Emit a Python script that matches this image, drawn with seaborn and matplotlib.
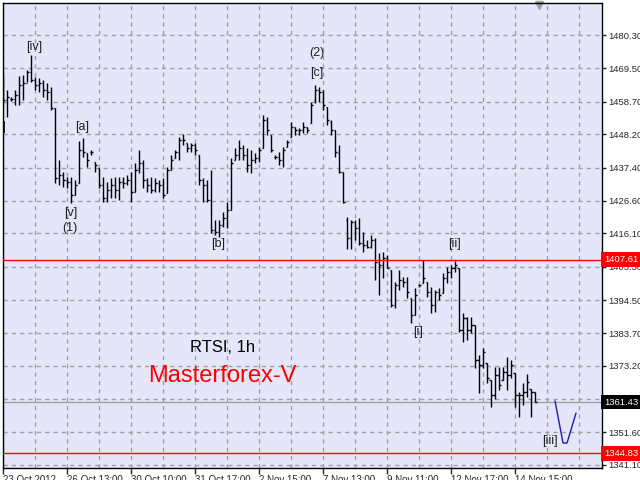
import seaborn as sns
import matplotlib.pyplot as plt
import matplotlib.transforms as mtransforms

sns.set_style("ticks", {"axes.facecolor": "#e6e6fa", "axes.edgecolor": "black"})
plt.rcParams['font.family'] = ['Liberation Sans', 'DejaVu Sans']

# hourly RTSI bars
highs = [1467.4,1462.5,1460.2,1462.5,1467.0,1467.4,1469.0,1473.8,1466.7,1466.4,
         1465.7,1464.8,1463.5,1456.7,1439.8,1436.0,1434.3,1434.3,1433.4,1446.0,
         1447.0,1442.1,1443.1,1439.2,1437.2,1434.3,1432.7,1434.0,1434.3,1434.3,
         1434.3,1435.0,1436.0,1438.9,1443.1,1439.8,1434.0,1434.3,1434.0,1433.4,
         1434.0,1437.6,1441.5,1443.1,1447.3,1448.3,1445.3,1445.3,1445.3,1441.5,
         1434.0,1433.4,1436.6,1420.4,1420.4,1423.0,1426.2,1440.5,1443.7,1446.3,
         1444.7,1443.7,1443.1,1442.1,1444.0,1454.4,1453.8,1447.9,1441.5,1442.4,
         1444.0,1446.3,1452.1,1450.5,1450.2,1452.1,1450.5,1458.6,1464.1,1463.5,
         1462.5,1457.0,1452.8,1449.5,1444.7,1436.0,1421.4,1420.4,1420.4,1421.1,
         1416.5,1413.9,1415.6,1414.6,1409.7,1410.1,1409.1,1404.2,1400.3,1404.2,
         1402.0,1402.0,1395.2,1398.4,1399.7,1407.5,1400.3,1398.7,1397.8,1398.4,
         1403.3,1405.2,1405.9,1407.2,1404.9,1390.3,1389.0,1389.0,1386.4,1376.7,
         1379.0,1374.1,1368.6,1372.8,1372.8,1372.8,1376.1,1375.1,1370.9,1364.7,
         1367.6,1370.6,1365.7,1364.7]
lows = [1457.6,1453.8,1458.9,1457.6,1457.6,1459.3,1465.1,1465.1,1462.5,1461.8,
        1460.2,1459.3,1456.0,1432.4,1431.7,1431.1,1430.8,1425.9,1428.5,1432.4,
        1440.8,1437.6,1441.5,1435.9,1430.8,1426.2,1426.2,1427.5,1427.5,1426.9,
        1430.8,1431.7,1426.2,1429.5,1435.7,1430.8,1429.5,1429.2,1429.5,1429.5,
        1427.5,1429.2,1436.6,1440.5,1439.8,1444.7,1442.4,1442.4,1441.5,1431.7,
        1426.2,1426.2,1416.2,1415.6,1414.9,1418.2,1417.8,1423.7,1439.8,1439.8,
        1439.8,1436.0,1435.6,1438.9,1439.2,1443.7,1447.9,1442.4,1440.2,1438.2,
        1437.6,1444.0,1447.3,1447.9,1447.9,1448.6,1448.6,1451.8,1458.3,1458.6,
        1456.0,1451.2,1447.9,1440.8,1435.6,1425.9,1411.0,1411.0,1413.9,1412.3,
        1410.1,1411.3,1411.3,1401.0,1396.1,1401.6,1404.9,1392.3,1391.9,1397.8,
        1398.7,1395.2,1387.1,1389.7,1398.7,1400.0,1395.5,1390.3,1390.6,1394.5,
        1396.8,1400.0,1401.6,1403.6,1384.2,1380.9,1381.6,1383.8,1372.5,1364.4,
        1372.5,1367.7,1359.9,1362.5,1365.4,1368.6,1365.4,1369.3,1359.9,1356.6,
        1360.5,1363.1,1356.6,1361.43]
opens = [1465.7,1459.3,1459.6,1459.6,1460.9,1464.1,1464.8,1468.3,1465.7,1464.1,
         1464.8,1462.5,1461.8,1456.7,1434.0,1435.0,1433.4,1432.7,1428.5,1432.4,
         1443.1,1442.1,1442.4,1439.2,1437.2,1431.7,1427.5,1430.1,1431.7,1430.1,
         1432.7,1432.4,1433.4,1429.5,1436.6,1438.9,1433.4,1431.7,1430.1,1432.4,
         1431.7,1429.2,1436.6,1440.5,1442.4,1446.3,1445.3,1443.7,1444.7,1441.5,
         1433.4,1431.7,1426.9,1417.2,1416.5,1418.8,1421.1,1423.7,1439.8,1441.5,
         1443.7,1441.5,1438.2,1439.8,1440.5,1443.7,1452.8,1447.9,1440.8,1440.8,
         1439.8,1444.0,1447.3,1450.5,1449.5,1449.5,1450.5,1451.8,1459.3,1462.5,
         1461.8,1457.0,1452.1,1449.5,1442.1,1436.0,1420.4,1414.6,1419.8,1417.8,
         1413.0,1412.3,1411.7,1413.9,1406.8,1405.9,1408.1,1404.2,1392.9,1399.4,
         1401.0,1400.3,1395.2,1389.7,1399.4,1400.0,1400.3,1397.1,1392.9,1397.1,
         1396.8,1401.6,1403.6,1404.9,1404.9,1384.8,1388.7,1384.8,1386.4,1375.1,
         1373.5,1374.1,1368.6,1363.8,1370.2,1368.6,1371.2,1370.2,1370.9,1363.8,
         1363.8,1364.7,1365.7,1364.7]
closes = [1459.3,1460.2,1459.6,1460.9,1464.1,1464.8,1468.3,1465.7,1464.1,1464.8,
          1462.5,1461.8,1456.7,1434.0,1435.0,1433.4,1432.7,1428.5,1431.7,1443.1,
          1442.4,1439.8,1442.4,1438.2,1431.7,1427.5,1430.1,1431.7,1430.1,1432.7,
          1432.4,1433.4,1429.5,1436.6,1438.9,1433.4,1431.7,1430.1,1432.4,1431.7,
          1428.5,1436.6,1439.8,1442.4,1446.3,1446.3,1443.7,1444.7,1443.1,1433.4,
          1431.7,1426.9,1417.2,1416.5,1418.8,1421.1,1423.7,1438.9,1441.5,1443.7,
          1441.5,1438.2,1439.8,1440.5,1443.1,1452.8,1449.5,1443.1,1440.8,1439.8,
          1443.1,1445.6,1450.5,1449.5,1449.5,1450.5,1449.5,1457.6,1462.5,1461.8,
          1457.6,1452.8,1449.5,1442.4,1436.0,1426.2,1414.6,1419.8,1417.8,1413.0,
          1412.3,1411.7,1413.9,1406.8,1405.9,1408.1,1404.9,1392.9,1399.4,1401.0,
          1400.3,1397.1,1389.7,1396.1,1399.4,1401.6,1397.1,1392.9,1397.1,1396.1,
          1401.6,1403.6,1404.9,1405.9,1384.8,1388.7,1384.8,1386.4,1375.1,1373.5,
          1377.7,1369.3,1363.8,1370.2,1367.0,1371.2,1370.2,1373.5,1363.8,1363.8,
          1364.7,1368.0,1364.7,1361.43]

xtick_pos = [0, 16, 32, 48, 64, 80, 96, 112, 128]
xtick_labels = ["23 Oct 2012", "26 Oct 13:00", "30 Oct 10:00", "31 Oct 17:00", "2 Nov 15:00",
                "7 Nov 13:00", "9 Nov 11:00", "12 Nov 17:00", "14 Nov 15:00"]
ytick_vals = [1480.30, 1469.50, 1458.70, 1448.20, 1437.40, 1426.60, 1416.10, 1405.30,
              1394.50, 1383.70, 1373.20, 1362.40, 1351.60, 1341.10]

red_levels = [1407.61, 1344.83]
bid = 1361.43

# wave labels: text, bar index, price
wave_labels = [("[iv]", 7.75, 1476.4), ("[i]", -0.6, 1450.5), ("[a]", 19.75, 1450.5),
               ("[v]", 16.75, 1422.7), ("(1)", 16.75, 1417.8), ("(2)", 78.5, 1474.5),
               ("[c]", 78.5, 1468.0), ("[b]", 53.75, 1412.6), ("[ii]", 112.75, 1412.6),
               ("[i]", 103.75, 1384.2), ("[iii]", 136.75, 1348.9)]

# forecast zigzag
proj_x = [138, 140, 141, 143.25]
proj_y = [1361.8, 1348.2, 1348.2, 1357.9]

fig = plt.figure(figsize=(6.4, 4.8), dpi=100)
ax = fig.add_axes([3/640, 12/480, 599/640, 465/480])

n = len(highs)
idx = list(range(n))
ax.vlines(idx, lows, highs, color="black", lw=1)
ax.hlines(opens, [i - 0.4 for i in idx], idx, color="black", lw=1)
ax.hlines(closes, idx, [i + 0.4 for i in idx], color="black", lw=1)

for lv in red_levels:
    ax.axhline(lv, color="red", lw=1, zorder=3)
ax.axhline(bid, color="#a0a0a0", lw=1, zorder=1)

sns.lineplot(x=proj_x, y=proj_y, ax=ax, color="#1c1cb0", lw=1, sort=False)

for txt, xi, yi in wave_labels:
    ax.text(xi, yi, txt, ha="center", va="center", fontsize=9, color="#202020", clip_on=True)

ax.text(54.75, 1379.0, "RTSI, 1h", ha="center", va="center", fontsize=12, color="black")
ax.text(54.75, 1370.0, "Masterforex-V", ha="center", va="center", fontsize=17, color="#ff0000")

ax.set_xlim(-0.1, 149.75)
ax.set_ylim(1340.1, 1490.7)

ax.set_xticks(xtick_pos, xtick_labels)
for lab in ax.get_xticklabels():
    lab.set_ha("left")
ax.set_xticks(range(8, 150, 8), minor=True)
ax.tick_params(axis="x", which="major", length=4, labelsize=7, pad=1, width=1)
ax.tick_params(axis="x", which="minor", length=0)

ax.yaxis.tick_right()
ax.set_yticks(ytick_vals, [f"{v:.2f}" if v != 1362.40 else "" for v in ytick_vals])
ax.tick_params(axis="y", length=3, labelsize=6.8, pad=1.5, width=1)

ax.grid(True, which="both", axis="x", color="#a0a0a0", ls=(0, (3, 3)), lw=1)
ax.grid(True, axis="y", color="#a0a0a0", ls=(0, (3, 3)), lw=1)
ax.set_axisbelow(True)

trans = mtransforms.blended_transform_factory(ax.transAxes, ax.transData)
for lv in red_levels:
    ax.text(1.003, lv, f"{lv:.2f}", transform=trans, ha="left", va="center", fontsize=6.8,
            color="white", clip_on=False,
            bbox=dict(boxstyle="square,pad=0.3", fc="#ff0000", ec="none"))
ax.text(1.003, bid, f"{bid:.2f}", transform=trans, ha="left", va="center", fontsize=6.8,
        color="white", clip_on=False,
        bbox=dict(boxstyle="square,pad=0.3", fc="black", ec="none"))

ax.plot([134], [1490.0], marker="v", color="#a0a0a0", ms=6, clip_on=False)

for sp in ax.spines.values():
    sp.set_color("black")
    sp.set_linewidth(1)

fig.savefig("out.png", dpi=100, facecolor="white")
